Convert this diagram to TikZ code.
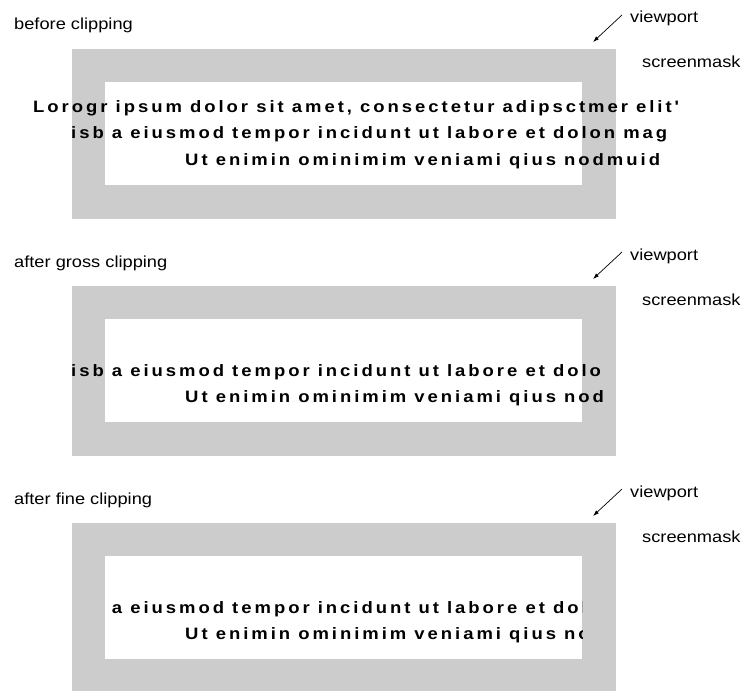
\documentclass[tikz,border=0pt]{standalone}
\usepackage{fontspec}
\setmainfont{Liberation Sans}
\newfontfamily\lblfont[FakeStretch=1.14]{Liberation Sans}
\newfontfamily\txtfont[BoldFont={Liberation Sans Bold},FakeStretch=1.12,LetterSpace=18]{Liberation Sans}
\usetikzlibrary{arrows.meta}
\tikzstyle{Mask}=[fill=black!20]
\tikzstyle{Hole}=[fill=white]
\tikzstyle{Label}=[anchor=base west, inner sep=0, font=\lblfont\fontsize{16}{19}\selectfont]
\tikzstyle{Line}=[anchor=base west, inner sep=0, font=\txtfont\bfseries\fontsize{16.5}{20}\selectfont]
\tikzstyle{Pointer}=[-{Latex[length=6pt,width=4pt]}, line width=0.7pt]

\begin{document}
\begin{tikzpicture}[x=1pt,y=-1pt]
    \useasboundingbox (0,0) rectangle (746,690);

    \path[Mask] (72,49) rectangle (616,219);
    \path[Hole] (105,82) rectangle (582,185);
    \path
    (14,30) node[Label] (lbBefore) {before clipping}
    (630,23) node[Label] (vpBefore) {viewport}
    (642,68) node[Label] (smBefore) {screenmask}
    (33,113) node[Line] (lnA1) {Lorogr ipsum dolor sit amet, consectetur adipsctmer elit'}
    (71,139) node[Line] (lnA2) {isb a eiusmod tempor incidunt ut labore et dolon mag}
    (185,165) node[Line] (lnA3) {Ut enimin ominimim veniami qius nodmuid};
    \coordinate (tailA) at (622,15);
    \coordinate (tipA) at (593,42);
    \draw[Pointer] (tailA) -- (tipA);

    \path[Mask] (72,286) rectangle (616,456);
    \path[Hole] (105,319) rectangle (582,422);
    \path
    (14,267) node[Label] (lbGross) {after gross clipping}
    (630,260) node[Label] (vpGross) {viewport}
    (642,305) node[Label] (smGross) {screenmask}
    (71,376) node[Line] (lnB2) {isb a eiusmod tempor incidunt ut labore et dolo}
    (185,402) node[Line] (lnB3) {Ut enimin ominimim veniami qius nod};
    \coordinate (tailB) at (622,252);
    \coordinate (tipB) at (593,279);
    \draw[Pointer] (tailB) -- (tipB);

    \path[Mask] (72,523) rectangle (616,693);
    \path[Hole] (105,556) rectangle (582,659);
    \path
    (14,504) node[Label] (lbFine) {after fine clipping}
    (630,497) node[Label] (vpFine) {viewport}
    (642,542) node[Label] (smFine) {screenmask};
    \begin{scope}
        \clip (105,556) rectangle (582,659);
        \path
        (71,613) node[Line] (lnC2) {isb a eiusmod tempor incidunt ut labore et dolo}
        (185,639) node[Line] (lnC3) {Ut enimin ominimim veniami qius nod};
    \end{scope}
    \coordinate (tailC) at (622,489);
    \coordinate (tipC) at (593,516);
    \draw[Pointer] (tailC) -- (tipC);
\end{tikzpicture}
\end{document}
